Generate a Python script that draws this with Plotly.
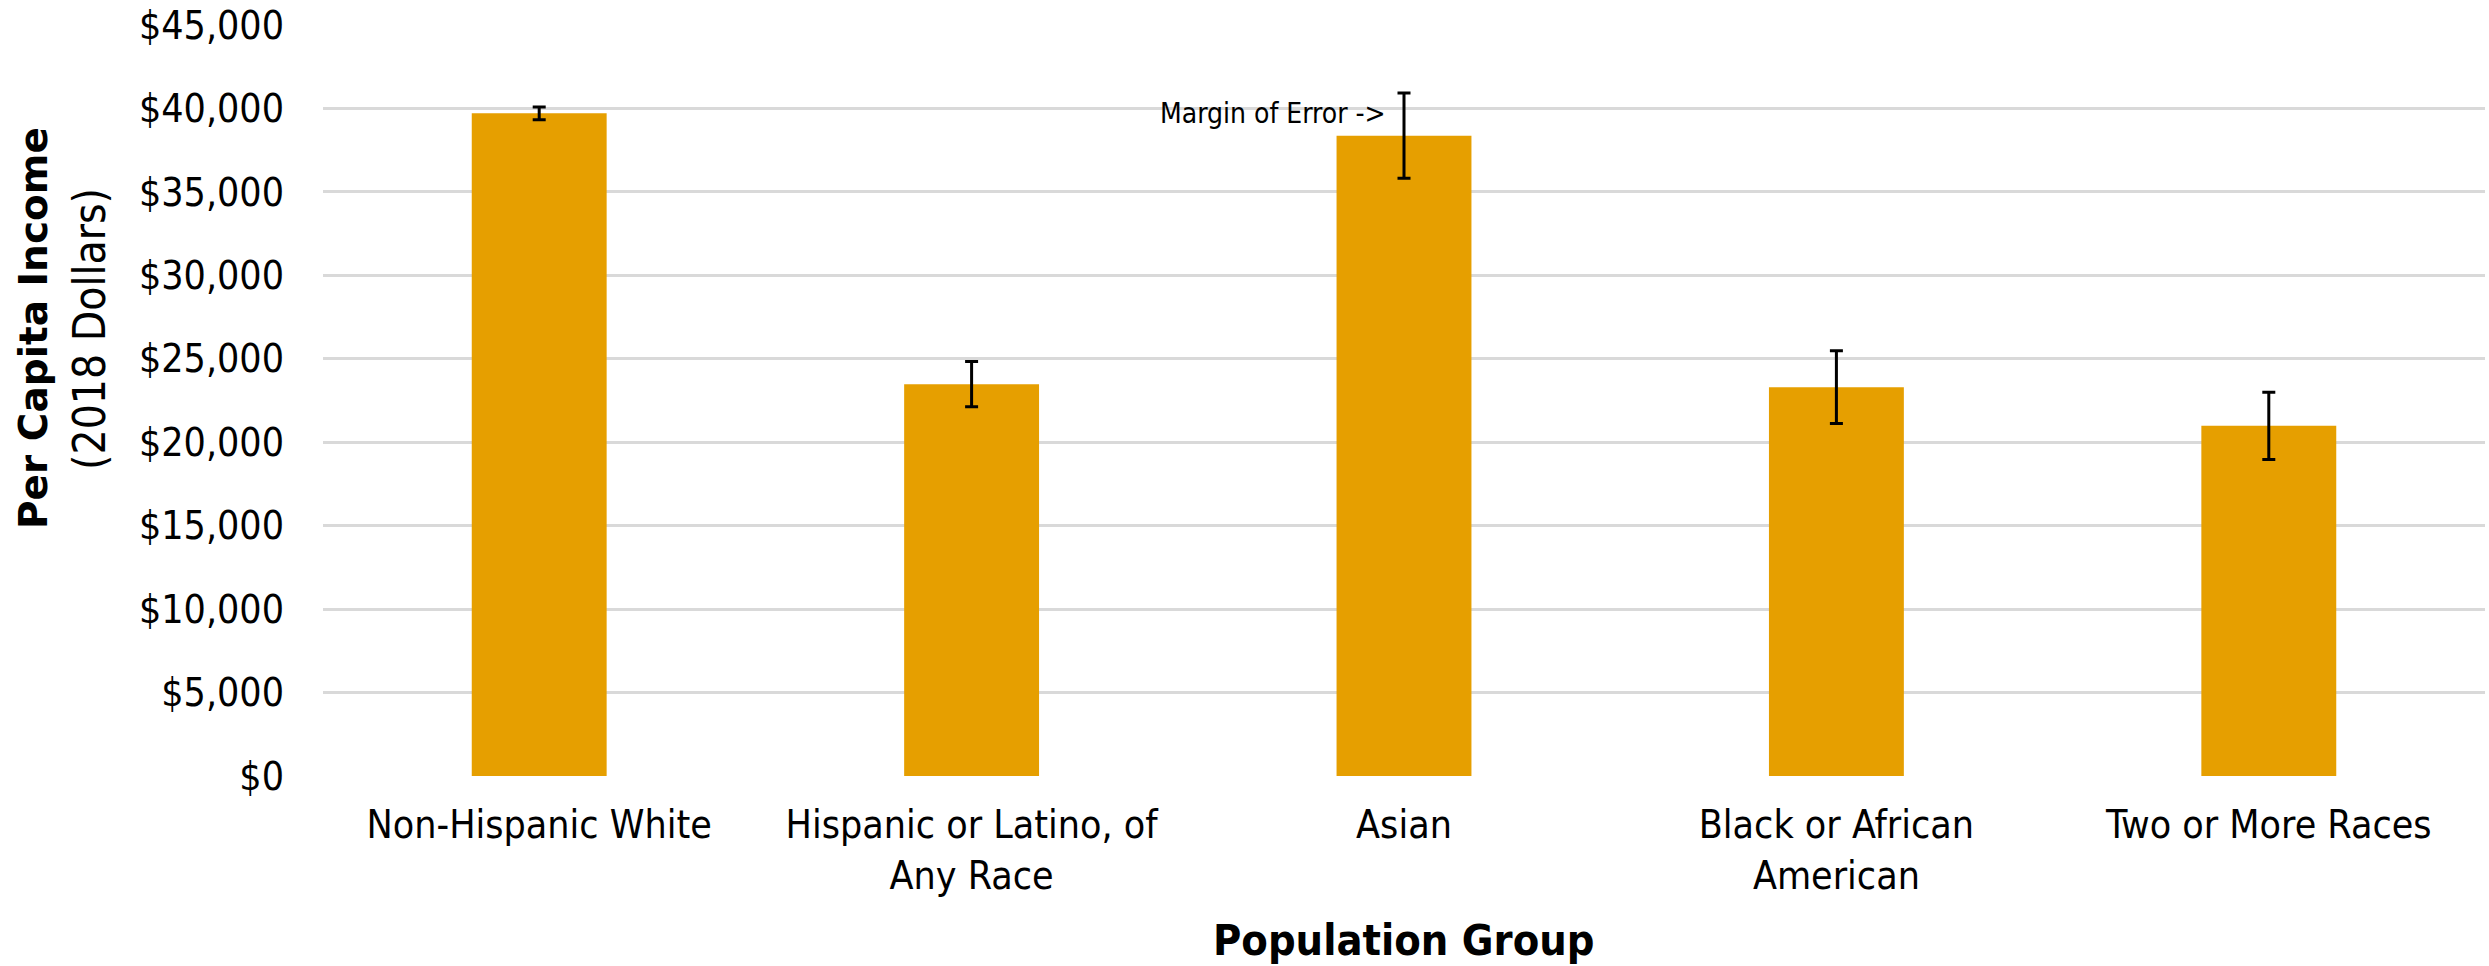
import plotly.graph_objects as go

categories = ["Non-Hispanic White", "Hispanic or Latino, of<br>Any Race", "Asian",
              "Black or African<br>American", "Two or More Races"]
income = [39710, 23480, 38370, 23300, 20980]
margin_of_error = [380, 1350, 2550, 2180, 2010]
y_ticks = [0, 5000, 10000, 15000, 20000, 25000, 30000, 35000, 40000, 45000]
y_tick_labels = ["$" + format(v, ",") for v in y_ticks]

COND = "DejaVu Sans Condensed, DejaVu Sans, sans-serif"
BOLD = "DejaVu Sans, Verdana, sans-serif"

W, H = 2489, 966
L, R, T, B = 323, 4, 25, 190
pw, ph = W - L - R, H - T - B

def px_x(p):
    return (p - L) / pw

def px_y(p):
    return (H - B - p) / ph

fig = go.Figure()
fig.add_trace(go.Bar(
    x=categories, y=income,
    marker=dict(color="#E69F00", line=dict(width=0)),
    error_y=dict(type="data", array=margin_of_error, visible=True,
                 color="#000000", thickness=3, width=6.5),
    showlegend=False,
))

fig.update_layout(
    width=W, height=H,
    margin=dict(l=L, r=R, t=T, b=B, pad=0),
    paper_bgcolor="white", plot_bgcolor="white",
    bargap=0.688,
    font=dict(family=COND, size=39, color="#000000"),
    xaxis=dict(showgrid=False, showline=False, zeroline=False, ticks="",
               tickfont=dict(family=COND, size=39, color="#000000"),
               ticklabelstandoff=22),
    yaxis=dict(range=[0, 45000], tickmode="array", tickvals=y_ticks, ticktext=y_tick_labels,
               showgrid=True, gridcolor="#D9D9D9", gridwidth=2.5,
               zeroline=False, showline=False, ticks="",
               tickfont=dict(family=COND, size=39, color="#000000"),
               ticklabelstandoff=38),
)

annotations = [
    dict(text="<b>Population Group</b>", xref="paper", yref="paper",
         x=0.5, y=px_y(940), xanchor="center", yanchor="middle", showarrow=False,
         font=dict(family=COND, size=43, color="#000000")),
    dict(text="<b>Per Capita Income</b>", xref="paper", yref="paper",
         x=px_x(33), y=px_y(328), xanchor="center", yanchor="middle", showarrow=False,
         textangle=-90, font=dict(family=BOLD, size=39, color="#000000")),
    dict(text="(2018 Dollars)", xref="paper", yref="paper",
         x=px_x(90), y=px_y(329), xanchor="center", yanchor="middle", showarrow=False,
         textangle=-90, font=dict(family=COND, size=44, color="#000000")),
    dict(text="Margin of Error ->", xref="x", yref="y",
         x=categories[2], y=income[2] + margin_of_error[2],
         xanchor="right", yanchor="middle", xshift=-16, yshift=-20, showarrow=False,
         font=dict(family=COND, size=28, color="#000000")),
]
fig.update_layout(annotations=annotations)

fig.write_html("out.html", config={"displayModeBar": False},
               post_script="document.body.style.margin='0';document.body.style.overflow='hidden';")
